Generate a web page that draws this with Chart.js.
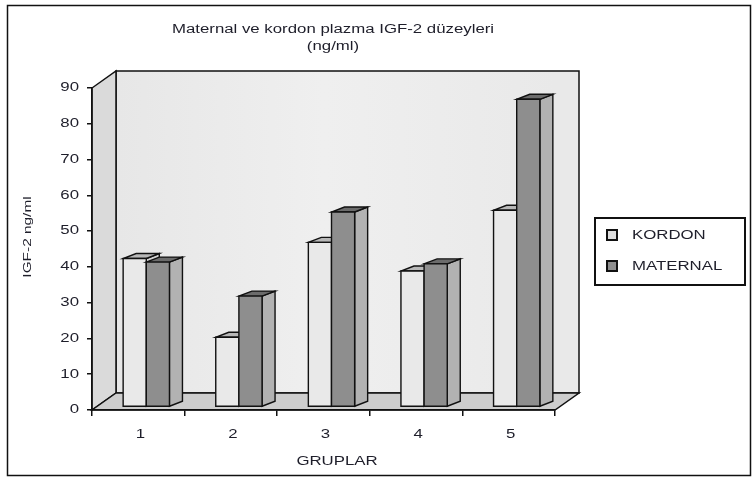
<!DOCTYPE html>
<html>
<head>
<meta charset="utf-8">
<script src="https://cdn.jsdelivr.net/npm/chart.js@4.4.0/dist/chart.umd.min.js"></script>
<style>
html, body { margin: 0; padding: 0; background: #fff; }
#wrap { width: 754px; height: 479px; }
</style>
</head>
<body>
<div id="wrap"><canvas id="igfChart" width="754" height="479"></canvas></div>
<script>
// Maternal ve kordon plazma IGF-2 düzeyleri (ng/ml), gruplara göre
const gruplar = ['1', '2', '3', '4', '5'];
const kordonDegerleri = [41.5, 19.5, 46, 38, 55];
const maternalDegerleri = [40.5, 31, 54.5, 40, 86];
const yTikleri = [0, 10, 20, 30, 40, 50, 60, 70, 80, 90];
const seriAdlari = ['KORDON', 'MATERNAL'];
const baslikSatirlari = ['Maternal ve kordon plazma IGF-2 düzeyleri', '(ng/ml)'];

// yüz renkleri: ön, yan, üst
const seriRenkleri = [
    { on: '#e9e9e9', yan: '#d2d2d2', ust: '#b8b8b8', kutu: '#dedede' },
    { on: '#8e8e8e', yan: '#b2b2b2', ust: '#6c6c6c', kutu: '#8e8e8e' }
];

const DERIN = { x: 24, y: -17 };   // duvar derinliği
const BAR_KAYMA = { x: 8, y: -3 }; // sütunların ön yüz düzlemi
const BAR_DERIN = { x: 13, y: -5 };
const YAZI_ESNE = 1.4;

function yazi(ctx, text, x, y, align, size, rot) {
    ctx.save();
    ctx.translate(x, y);
    if (rot) ctx.rotate(rot);
    ctx.scale(YAZI_ESNE, 1);
    ctx.font = size + 'px "Liberation Sans", Arial, sans-serif';
    ctx.fillStyle = '#1e1e2a';
    ctx.textAlign = align;
    ctx.textBaseline = 'middle';
    ctx.fillText(text, 0, 0);
    ctx.restore();
}

function cokgen(ctx, pts, fill) {
    ctx.beginPath();
    ctx.moveTo(pts[0][0], pts[0][1]);
    for (let i = 1; i < pts.length; i++) ctx.lineTo(pts[i][0], pts[i][1]);
    ctx.closePath();
    ctx.fillStyle = fill;
    ctx.fill();
    ctx.stroke();
}

const ucBoyut = {
    id: 'ucBoyut',
    beforeDraw(chart) {
        const ctx = chart.ctx;
        const ca = chart.chartArea;
        ctx.save();
        ctx.fillStyle = '#fff';
        ctx.fillRect(0, 0, chart.width, chart.height);

        ctx.strokeStyle = '#111';
        ctx.lineWidth = 1.5;
        ctx.strokeRect(7.5, 5.5, 743, 470);

        // arka duvar
        const g = ctx.createLinearGradient(ca.left, 0, ca.right, 0);
        g.addColorStop(0, '#e6e6e6');
        g.addColorStop(0.5, '#efefef');
        g.addColorStop(1, '#e9e9e9');
        cokgen(ctx, [
            [ca.left + DERIN.x, ca.top + DERIN.y], [ca.right + DERIN.x, ca.top + DERIN.y],
            [ca.right + DERIN.x, ca.bottom + DERIN.y], [ca.left + DERIN.x, ca.bottom + DERIN.y]
        ], g);
        // sol duvar
        cokgen(ctx, [
            [ca.left, ca.top], [ca.left + DERIN.x, ca.top + DERIN.y],
            [ca.left + DERIN.x, ca.bottom + DERIN.y], [ca.left, ca.bottom]
        ], '#dadada');
        // taban
        cokgen(ctx, [
            [ca.left, ca.bottom], [ca.right, ca.bottom],
            [ca.right + DERIN.x, ca.bottom + DERIN.y], [ca.left + DERIN.x, ca.bottom + DERIN.y]
        ], '#cdcdcd');

        baslikSatirlari.forEach((s, i) => yazi(ctx, s, 333, 30 + i * 17, 'center', 12));
        ctx.restore();
    },
    afterDatasetsDraw(chart) {
        const ctx = chart.ctx;
        ctx.save();
        ctx.strokeStyle = '#111';
        ctx.lineWidth = 1.4;
        ctx.lineJoin = 'miter';
        for (let j = 0; j < gruplar.length; j++) {
            for (let i = 0; i < chart.data.datasets.length; i++) {
                const el = chart.getDatasetMeta(i).data[j];
                const p = el.getProps(['x', 'y', 'base', 'width'], true);
                const x0 = p.x - p.width / 2 + BAR_KAYMA.x;
                const x1 = p.x + p.width / 2 + BAR_KAYMA.x;
                const yt = p.y + BAR_KAYMA.y;
                const yb = p.base + BAR_KAYMA.y;
                const r = seriRenkleri[i];
                cokgen(ctx, [[x1, yb], [x1 + BAR_DERIN.x, yb + BAR_DERIN.y],
                    [x1 + BAR_DERIN.x, yt + BAR_DERIN.y], [x1, yt]], r.yan);
                cokgen(ctx, [[x0, yt], [x1, yt], [x1 + BAR_DERIN.x, yt + BAR_DERIN.y],
                    [x0 + BAR_DERIN.x, yt + BAR_DERIN.y]], r.ust);
                cokgen(ctx, [[x0, yt], [x1, yt], [x1, yb], [x0, yb]], r.on);
            }
        }
        ctx.restore();
    },
    afterDraw(chart) {
        const ctx = chart.ctx;
        const ys = chart.scales.y;
        const xs = chart.scales.x;

        ys.ticks.forEach(t => yazi(ctx, String(t.value), 79, ys.getPixelForValue(t.value), 'right', 12));
        gruplar.forEach((g, i) => yazi(ctx, g, xs.getPixelForValue(i) + 2, 435, 'center', 12));
        yazi(ctx, 'GRUPLAR', 337, 462, 'center', 12);
        yazi(ctx, 'IGF-2 ng/ml', 28, 237, 'center', 11, -Math.PI / 2);

        // gösterge
        ctx.save();
        ctx.strokeStyle = '#111';
        ctx.lineWidth = 2;
        ctx.strokeRect(595, 218, 150, 67);
        chart.data.datasets.forEach((ds, i) => {
            const cy = 235 + i * 31;
            ctx.fillStyle = seriRenkleri[i].kutu;
            ctx.fillRect(607, cy - 5, 10, 10);
            ctx.strokeRect(607, cy - 5, 10, 10);
            yazi(ctx, ds.label, 632, cy + 1, 'left', 12);
        });
        ctx.restore();
    }
};

new Chart(document.getElementById('igfChart'), {
    type: 'bar',
    data: {
        labels: gruplar,
        datasets: [{
            label: seriAdlari[0],
            data: kordonDegerleri,
            backgroundColor: 'rgba(0,0,0,0)',
            borderWidth: 0
        }, {
            label: seriAdlari[1],
            data: maternalDegerleri,
            backgroundColor: 'rgba(0,0,0,0)',
            borderWidth: 0
        }]
    },
    options: {
        responsive: false,
        animation: false,
        devicePixelRatio: 1,
        layout: { padding: { left: 0, top: 88, right: 199, bottom: 0 } },
        plugins: { legend: { display: false }, title: { display: false }, tooltip: { enabled: false } },
        datasets: { bar: { categoryPercentage: 0.5, barPercentage: 1.0 } },
        scales: {
            x: {
                grid: { drawOnChartArea: false, drawTicks: true, tickLength: 6, color: '#111', lineWidth: 1.5 },
                border: { display: true, color: '#111', width: 1.5 },
                ticks: { display: false },
                afterFit: s => { s.height = 69; }
            },
            y: {
                min: 0,
                max: 90,
                afterBuildTicks: s => { s.ticks = yTikleri.map(v => ({ value: v })); },
                grid: { drawOnChartArea: false, drawTicks: true, tickLength: 5, color: '#111', lineWidth: 1.5 },
                border: { display: true, color: '#111', width: 1.5 },
                ticks: { display: false },
                afterFit: s => { s.width = 92; }
            }
        }
    },
    plugins: [ucBoyut]
});
</script>
</body>
</html>
